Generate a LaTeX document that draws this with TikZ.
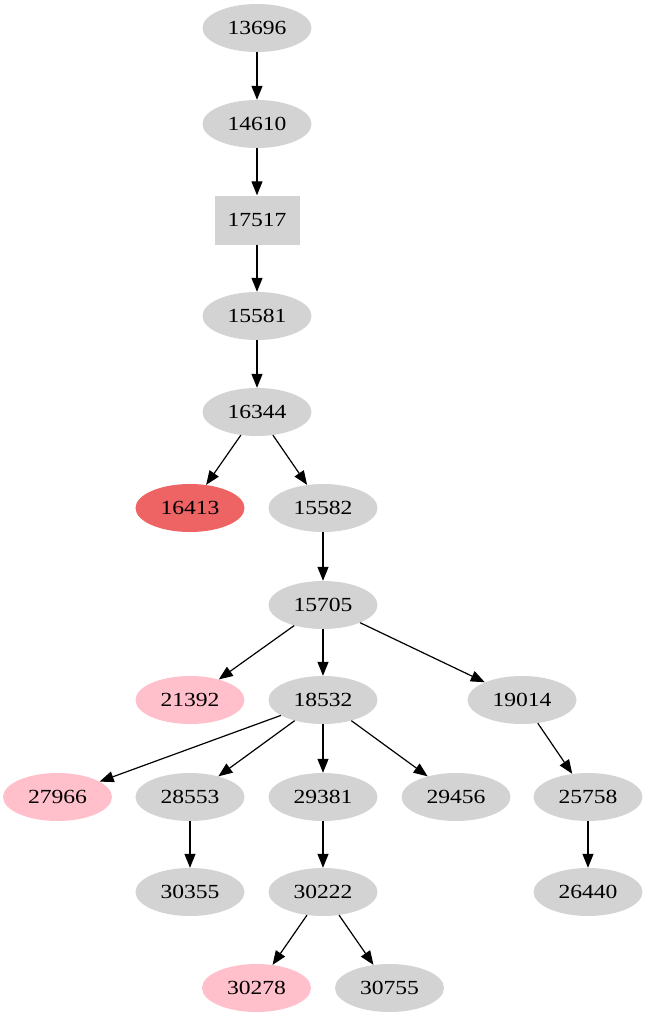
\documentclass[tikz,border=0pt]{standalone}
\usepackage{fontspec}
\setmainfont{Liberation Serif}
\usetikzlibrary{shapes.geometric,arrows.meta}
\definecolor{ngray}{RGB}{211,211,211}
\definecolor{nred}{RGB}{238,100,100}
\definecolor{npink}{RGB}{255,192,203}
\newcommand{\lab}[1]{\scalebox{1.18}[1]{#1}}
\tikzset{
  nd/.style={ellipse, fill=ngray, minimum width=109pt, minimum height=48pt, inner sep=0pt,
    font=\fontsize{20}{21}\selectfont},
  boxnd/.style={rectangle, fill=ngray, minimum width=85pt, minimum height=49pt, inner sep=0pt,
    font=\fontsize{20}{21}\selectfont},
  rednd/.style={nd, fill=nred},
  pinknd/.style={nd, fill=npink},
  edge/.style={draw=black, line width=1.2pt, -{Triangle[length=14pt,width=11pt]}}
}
\begin{document}
\begin{tikzpicture}[x=1pt,y=-1pt]
\useasboundingbox (0,0) rectangle (646,1019);
\node[nd] (n13696) at (257,28) {\lab{13696}};
\node[nd] (n14610) at (257,124) {\lab{14610}};
\node[boxnd] (n17517) at (257,220) {\lab{17517}};
\node[nd] (n15581) at (257,316) {\lab{15581}};
\node[nd] (n16344) at (257,412) {\lab{16344}};
\node[rednd] (n16413) at (190,508) {\lab{16413}};
\node[nd] (n15582) at (323,508) {\lab{15582}};
\node[nd] (n15705) at (323,605) {\lab{15705}};
\node[pinknd] (n21392) at (190,700) {\lab{21392}};
\node[nd] (n18532) at (323,700) {\lab{18532}};
\node[nd] (n19014) at (522,700) {\lab{19014}};
\node[pinknd] (n27966) at (57.5,797) {\lab{27966}};
\node[nd] (n28553) at (190,797) {\lab{28553}};
\node[nd] (n29381) at (323,797) {\lab{29381}};
\node[nd] (n29456) at (456,797) {\lab{29456}};
\node[nd] (n25758) at (588,797) {\lab{25758}};
\node[nd] (n30355) at (190,892) {\lab{30355}};
\node[nd] (n30222) at (323,892) {\lab{30222}};
\node[nd] (n26440) at (588,892) {\lab{26440}};
\node[pinknd] (n30278) at (256.5,988) {\lab{30278}};
\node[nd] (n30755) at (389.5,988) {\lab{30755}};
\draw[edge] (n13696) -- (n14610);
\draw[edge] (n14610) -- (n17517);
\draw[edge] (n17517) -- (n15581);
\draw[edge] (n15581) -- (n16344);
\draw[edge] (n16344) -- (n16413);
\draw[edge] (n16344) -- (n15582);
\draw[edge] (n15582) -- (n15705);
\draw[edge] (n15705) -- (n21392);
\draw[edge] (n15705) -- (n18532);
\draw[edge] (n15705) -- (n19014);
\draw[edge] (n18532) -- (n27966);
\draw[edge] (n18532) -- (n28553);
\draw[edge] (n18532) -- (n29381);
\draw[edge] (n18532) -- (n29456);
\draw[edge] (n19014) -- (n25758);
\draw[edge] (n28553) -- (n30355);
\draw[edge] (n29381) -- (n30222);
\draw[edge] (n25758) -- (n26440);
\draw[edge] (n30222) -- (n30278);
\draw[edge] (n30222) -- (n30755);
\end{tikzpicture}
\end{document}
